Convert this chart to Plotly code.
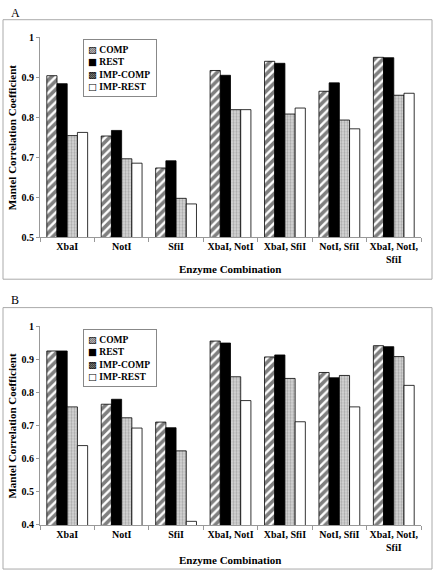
import plotly.graph_objects as go

W, H = 436, 577

categories = ["XbaI", "NotI", "SfiI", "XbaI, NotI", "XbaI, SfiI", "NotI, SfiI", "XbaI, NotI,<br>SfiI"]
series_names = ["COMP", "REST", "IMP-COMP", "IMP-REST"]
legend_icons = ["▨", "■", "▩", "□"]

a_comp = [0.904, 0.753, 0.673, 0.917, 0.940, 0.865, 0.950]
a_rest = [0.884, 0.767, 0.691, 0.905, 0.935, 0.886, 0.949]
a_imp_comp = [0.754, 0.696, 0.597, 0.819, 0.808, 0.793, 0.855]
a_imp_rest = [0.762, 0.685, 0.583, 0.819, 0.823, 0.771, 0.860]

b_comp = [0.926, 0.765, 0.711, 0.956, 0.908, 0.861, 0.942]
b_rest = [0.926, 0.780, 0.694, 0.950, 0.914, 0.845, 0.939]
b_imp_comp = [0.757, 0.724, 0.624, 0.848, 0.843, 0.852, 0.909]
b_imp_rest = [0.640, 0.693, 0.411, 0.776, 0.712, 0.757, 0.822]

y_ticks_a = [0.5, 0.6, 0.7, 0.8, 0.9, 1.0]
y_tick_text_a = ["0.5", "0.6", "0.7", "0.8", "0.9", "1"]
y_ticks_b = [0.4, 0.5, 0.6, 0.7, 0.8, 0.9, 1.0]
y_tick_text_b = ["0.4", "0.5", "0.6", "0.7", "0.8", "0.9", "1"]

SERIF = "Liberation Serif, Times New Roman, serif"

styles = [
    dict(color="white", pattern=dict(shape="/", fgcolor="black", bgcolor="white", size=6, solidity=0.6)),
    dict(color="black"),
    dict(color="#d0d0d0", pattern=dict(shape=".", fgcolor="#7a7a7a", bgcolor="#d8d8d8", size=3, solidity=0.45)),
    dict(color="white"),
]

fig = go.Figure()

panel_a = [a_comp, a_rest, a_imp_comp, a_imp_rest]
panel_b = [b_comp, b_rest, b_imp_comp, b_imp_rest]

for name, vals, st in zip(series_names, panel_a, styles):
    fig.add_trace(go.Bar(x=categories, y=vals, name=name, xaxis="x", yaxis="y", showlegend=False,
                         marker=dict(**st, line=dict(color="black", width=0.8))))
for name, vals, st in zip(series_names, panel_b, styles):
    fig.add_trace(go.Bar(x=categories, y=vals, name=name, xaxis="x2", yaxis="y2", showlegend=False,
                         marker=dict(**st, line=dict(color="black", width=0.8))))


def px_x(p):
    return p / W


def px_y(p):
    return 1 - p / H


axis_common = dict(showgrid=False, zeroline=False, showline=True, linecolor="#999", linewidth=1,
                   tickfont=dict(family=SERIF, size=10, color="black", weight="bold"))

legend_text = "<br>".join(
    f'<span style="font-family:DejaVu Sans">{ic}</span> <b>{nm}</b>'
    for ic, nm in zip(legend_icons, series_names)
)


def legend_annot(top_px):
    return dict(text=legend_text, x=px_x(83), y=px_y(top_px), xref="paper", yref="paper",
                xanchor="left", yanchor="top", align="left", showarrow=False, width=64,
                bordercolor="#888", borderwidth=1, borderpad=4, bgcolor="white",
                font=dict(family=SERIF, size=9.5, color="black"))


def label(text, xp, yp, size, angle=0):
    return dict(text=text, x=px_x(xp), y=px_y(yp), xref="paper", yref="paper", showarrow=False,
                xanchor="center", yanchor="middle", textangle=angle,
                font=dict(family=SERIF, size=size, color="black"))


fig.update_layout(
    width=W, height=H,
    margin=dict(l=0, r=0, t=0, b=0),
    paper_bgcolor="white", plot_bgcolor="white",
    barmode="group", bargap=0.25, bargroupgap=0,
    font=dict(family=SERIF, color="black"),
    showlegend=False,
    xaxis=dict(domain=[px_x(40), px_x(421)], anchor="y", ticks="outside", tickson="boundaries",
               ticklen=4, tickcolor="#999", tickangle=0, **axis_common),
    yaxis=dict(domain=[px_y(236), px_y(32)], anchor="x", range=[0.5, 1.0], tickvals=y_ticks_a,
               ticktext=y_tick_text_a, ticks="outside", ticklen=3, tickcolor="#999", **axis_common),
    xaxis2=dict(domain=[px_x(40), px_x(421)], anchor="y2", ticks="outside", tickson="boundaries",
                ticklen=4, tickcolor="#999", tickangle=0, **axis_common),
    yaxis2=dict(domain=[px_y(530), px_y(327.3)], anchor="x2", range=[0.4, 1.0], tickvals=y_ticks_b,
                ticktext=y_tick_text_b, ticks="outside", ticklen=3, tickcolor="#999", **axis_common),
    shapes=[
        dict(type="rect", xref="paper", yref="paper", x0=px_x(3), x1=px_x(432), y0=px_y(279), y1=px_y(14),
             line=dict(color="#aaa", width=1)),
        dict(type="rect", xref="paper", yref="paper", x0=px_x(3), x1=px_x(432), y0=px_y(575), y1=px_y(308),
             line=dict(color="#aaa", width=1)),
    ],
    annotations=[
        label("A", 15, 7, 12),
        label("B", 15, 300, 12),
        label("<b>Mantel Correlation Coefficient</b>", 12, 134, 11, -90),
        label("<b>Mantel Correlation Coefficient</b>", 12, 428.5, 11, -90),
        label("<b>Enzyme Combination</b>", 230, 269, 11),
        label("<b>Enzyme Combination</b>", 230, 565.5, 11),
        legend_annot(34),
        legend_annot(330),
    ],
)

fig.write_html("out.html", config={"displayModeBar": False},
               post_script="document.body.style.margin='0';")
